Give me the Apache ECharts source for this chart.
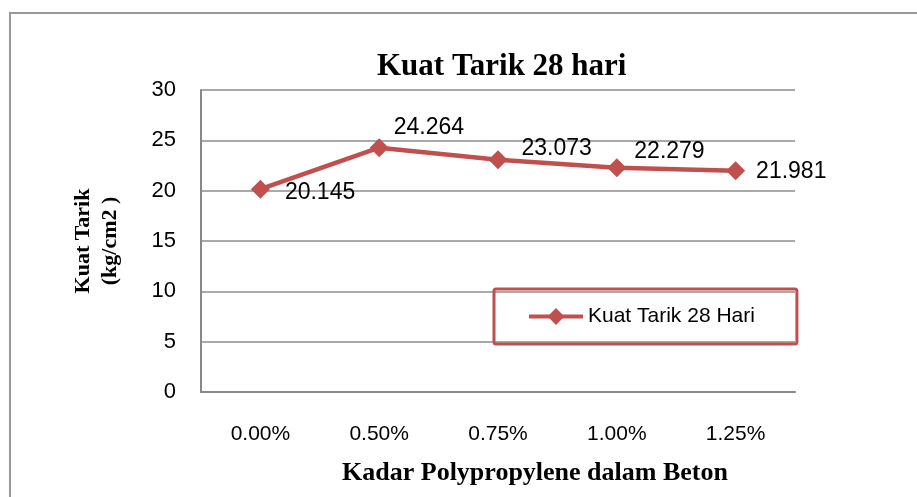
<!DOCTYPE html>
<html><head><meta charset="utf-8">
<script src="https://cdn.jsdelivr.net/npm/echarts@6/dist/echarts.min.js"></script>
<style>html,body{margin:0;padding:0;background:#fff}#c{width:917px;height:497px}</style>
</head><body><div id="c"></div>
<script>
var categories = ['0.00%', '0.50%', '0.75%', '1.00%', '1.25%'];
var values = [20.145, 24.264, 23.073, 22.279, 21.981];
var labelTexts = ['20.145', '24.264', '23.073', '22.279', '21.981'];
var yTicks = {min: 0, max: 30, interval: 5};
var seriesName = 'Kuat Tarik 28 Hari';
var labelOffsets = [[15, 3], [5, -20], [14, -11], [8, -16], [11, 1]];

var red = '#c0504d';
var chart = echarts.init(document.getElementById('c'), null, {renderer: 'canvas'});
chart.setOption({
  backgroundColor: '#fff',
  animation: false,
  title: {
    text: 'Kuat Tarik 28 hari', left: 372, top: 46,
    textStyle: {fontFamily: 'Liberation Serif', fontWeight: 'bold', fontSize: 31, color: '#000'}
  },
  graphic: [{
    type: 'rect', shape: {x: 10, y: 13, width: 930, height: 500},
    style: {fill: 'none', stroke: '#999', lineWidth: 2}, silent: true
  }],
  grid: {left: 201, top: 90, right: 122, bottom: 105},
  legend: {
    data: [seriesName], left: 494, top: 289,
    padding: [17, 42, 17, 33], borderColor: red, borderWidth: 3, borderRadius: 2,
    itemWidth: 54, itemHeight: 21,
    lineStyle: {width: 4},
    textStyle: {fontFamily: 'Liberation Sans', fontSize: 21, color: '#000'}
  },
  xAxis: {
    type: 'category', data: categories, boundaryGap: true,
    axisLine: {lineStyle: {color: '#888', width: 2}},
    axisTick: {show: false},
    axisLabel: {margin: 32, fontFamily: 'Liberation Sans', fontSize: 21, color: '#000'},
    name: 'Kadar Polypropylene dalam Beton', nameLocation: 'middle', nameGap: 68,
    nameTextStyle: {fontFamily: 'Liberation Serif', fontWeight: 'bold', fontSize: 26, color: '#000', padding: [0, 0, 0, 74]}
  },
  yAxis: {
    type: 'value', min: yTicks.min, max: yTicks.max, interval: yTicks.interval,
    axisLine: {show: true, lineStyle: {color: '#888', width: 2}},
    axisTick: {show: false},
    splitLine: {lineStyle: {color: '#8c8c8c', width: 1.5}},
    axisLabel: {margin: 25, fontFamily: 'Liberation Sans', fontSize: 22, color: '#000'},
    name: 'Kuat Tarik\n(kg/cm2 )', nameLocation: 'middle', nameRotate: 90, nameGap: 77,
    nameTextStyle: {fontFamily: 'Liberation Serif', fontWeight: 'bold', fontSize: 22, color: '#000', lineHeight: 27}
  },
  series: [{
    name: seriesName, type: 'line', data: values.map(function (v, i) {
      return {value: v, label: {offset: labelOffsets[i], formatter: labelTexts[i]}};
    }),
    symbol: 'diamond', symbolSize: 19,
    lineStyle: {color: red, width: 4.5},
    itemStyle: {color: red},
    label: {show: true, position: 'right', distance: 0, fontFamily: 'Liberation Sans', fontSize: 23, color: '#000'}
  }]
});
</script></body></html>
